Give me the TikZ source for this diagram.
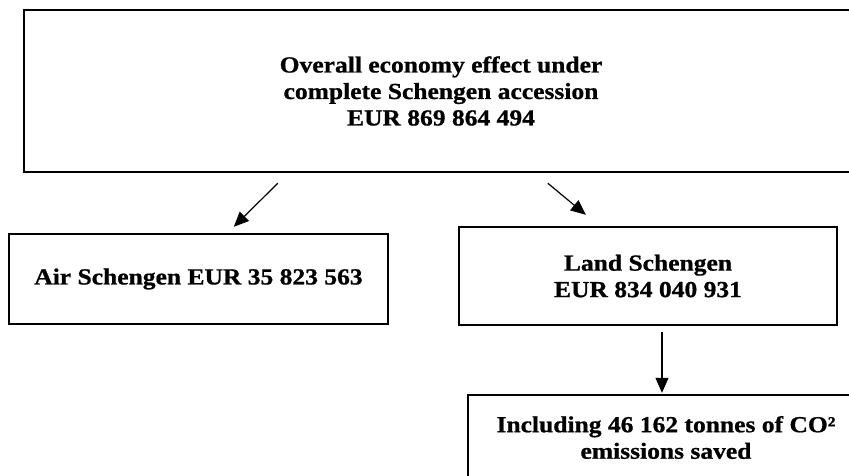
\documentclass[tikz,border=0pt]{standalone}
\usepackage{fontspec}
\setmainfont{Liberation Serif}[FakeStretch=1.11, BoldFeatures={FakeBold=0.8}]
\usetikzlibrary{arrows.meta}
\tikzset{
  boxst/.style={draw=black, line width=2.4pt, fill=white, inner sep=0pt},
  txt/.style={font=\fontsize{23}{26.5}\selectfont\bfseries, align=center, inner sep=0pt},
  arr/.style={line width=1.2pt, -{Triangle[length=15pt,width=13pt]}}
}
\begin{document}
\begin{tikzpicture}[x=1pt,y=-1pt]
\useasboundingbox (0,0) rectangle (849,475);
\clip (0,0) rectangle (849,475);
\fill[white] (0,0) rectangle (849,475);
% top box (extends past the right edge)
\node[boxst, txt, minimum width=834pt, minimum height=162pt] (topbox) at (441,91) {Overall economy effect under\\complete Schengen accession\\EUR 869 864 494};
% air
\node[boxst, txt, minimum width=379pt, minimum height=90pt] (air) at (198.5,279) {Air Schengen EUR 35 823 563};
% land
\node[boxst, txt, minimum width=378pt, minimum height=98pt] (land) at (648,276) {Land Schengen\\EUR 834 040 931};
% co2
\node[boxst, txt, minimum width=396pt, minimum height=85pt] (co2) at (666,437.5) {Including 46 162 tonnes of CO²\\emissions saved};
% arrows
\draw[arr] ([xshift=255pt,yshift=-10pt]topbox.south west) -- ([xshift=226pt,yshift=6pt]air.north west);
\draw[arr] ([xshift=525pt,yshift=-10pt]topbox.south west) -- ([xshift=128pt,yshift=11pt]land.north west);
\draw[arr] ([xshift=14pt,yshift=-6pt]land.south) -- ([xshift=-4pt,yshift=1pt]co2.north);
\end{tikzpicture}
\end{document}
